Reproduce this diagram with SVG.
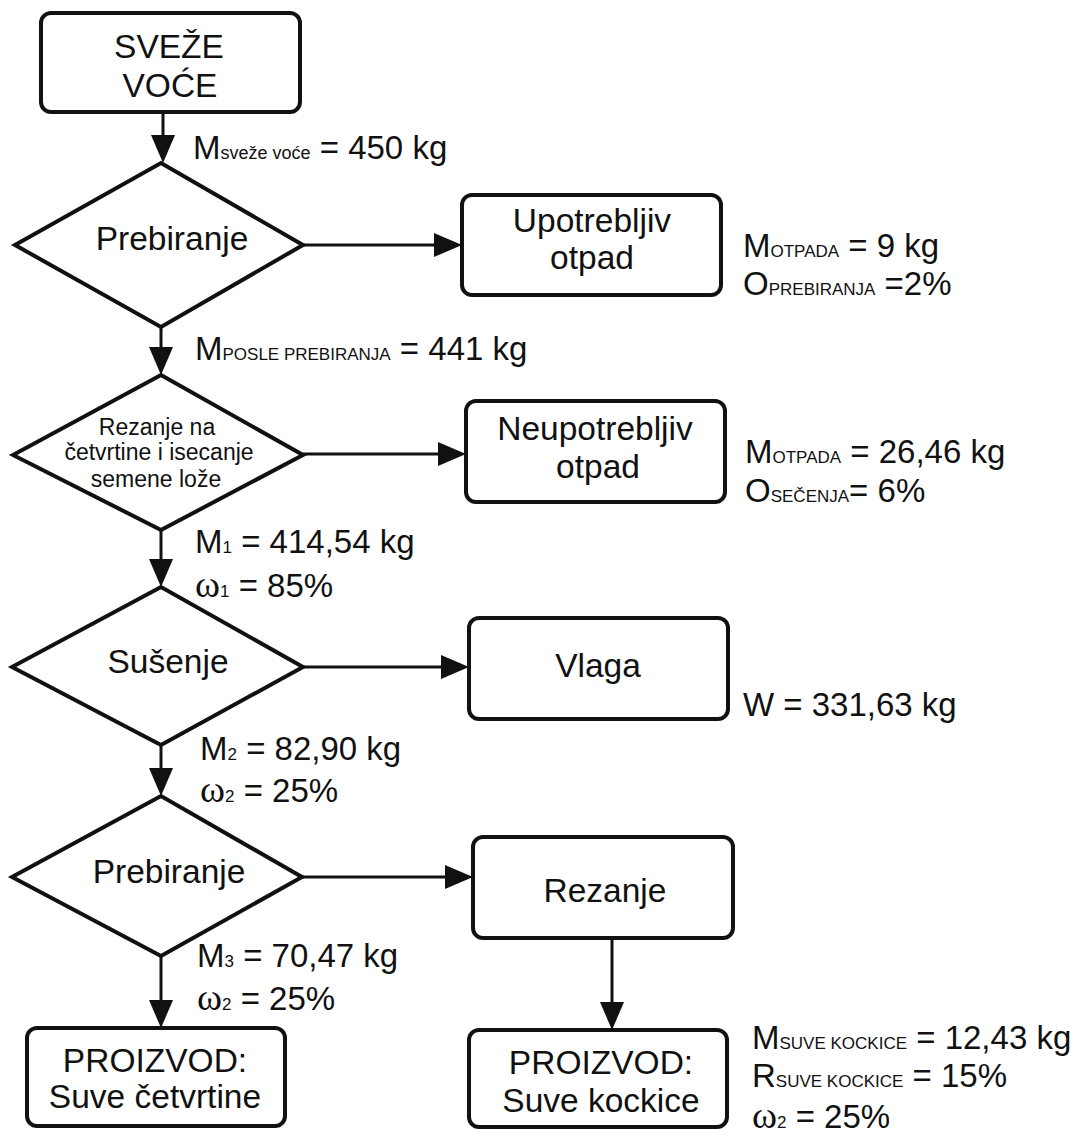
<svg xmlns="http://www.w3.org/2000/svg" width="1081" height="1129" viewBox="0 0 1081 1129">
  <defs>
    <marker id="arrow" markerUnits="userSpaceOnUse" markerWidth="28" markerHeight="24" viewBox="0 0 28 24" refX="18" refY="12" orient="auto">
      <path d="M0,0 L28,12 L0,24 Z" fill="#111"/>
    </marker>
    <style>
      .box { fill: #fff; stroke: #111; stroke-width: 4; }
      .dia { fill: #fff; stroke: #111; stroke-width: 4; stroke-linejoin: miter; }
      .con { fill: none; stroke: #111; stroke-width: 3; marker-end: url(#arrow); }
      text { font-family: "Liberation Sans", Arial, sans-serif; fill: #111; }
      .nt { font-size: 33.5px; text-anchor: middle; }
      .st { font-size: 23px; text-anchor: middle; }
      .lab { font-size: 33px; }
      .sub { font-size: 17px; }
      .subl { font-size: 18px; }
      .num { font-size: 17px; }
      .om { font-family: "Liberation Serif", "Times New Roman", serif; font-size: 38px; }
    </style>
  </defs>

  <!-- connectors -->
  <g id="connectors">
    <line class="con" x1="163" y1="112" x2="163" y2="153"/>
    <line class="con" x1="161" y1="327" x2="161" y2="365"/>
    <line class="con" x1="161" y1="530" x2="161" y2="577"/>
    <line class="con" x1="161" y1="745" x2="161" y2="786"/>
    <line class="con" x1="161" y1="956" x2="161" y2="1018"/>
    <line class="con" x1="612" y1="938" x2="612" y2="1020"/>
    <line class="con" x1="303" y1="245" x2="452" y2="245"/>
    <line class="con" x1="303" y1="454" x2="456" y2="454"/>
    <line class="con" x1="303" y1="667" x2="459" y2="667"/>
    <line class="con" x1="302" y1="877" x2="463" y2="877"/>
  </g>

  <!-- start -->
  <g id="sveze-voce">
    <rect class="box" x="41" y="13" width="259" height="99" rx="10"/>
    <text class="nt" x="169" y="58">SVEŽE</text>
    <text class="nt" x="170" y="97">VOĆE</text>
  </g>

  <!-- step 1: sorting -->
  <g id="prebiranje-1">
    <polygon class="dia" points="15,245 161,163 303,245 161,327"/>
    <text class="nt" x="172" y="250">Prebiranje</text>
  </g>
  <g id="upotrebljiv-otpad">
    <rect class="box" x="462" y="195" width="259" height="100" rx="10"/>
    <text class="nt" x="592" y="232">Upotrebljiv</text>
    <text class="nt" x="592" y="269">otpad</text>
  </g>

  <!-- step 2: quartering and coring -->
  <g id="rezanje-cetvrtine">
    <polygon class="dia" points="13,455 161,375 303,455 161,530"/>
    <text class="st" x="157" y="435">Rezanje na</text>
    <text class="st" x="159" y="460">četvrtine i isecanje</text>
    <text class="st" x="156" y="487">semene lože</text>
  </g>
  <g id="neupotrebljiv-otpad">
    <rect class="box" x="466" y="401" width="259" height="101" rx="10"/>
    <text class="nt" x="595" y="440">Neupotrebljiv</text>
    <text class="nt" x="598" y="478">otpad</text>
  </g>

  <!-- step 3: drying -->
  <g id="susenje">
    <polygon class="dia" points="12,667 161,587 303,667 161,745"/>
    <text class="nt" x="168" y="673">Sušenje</text>
  </g>
  <g id="vlaga">
    <rect class="box" x="469" y="618" width="259" height="101" rx="10"/>
    <text class="nt" x="598" y="677">Vlaga</text>
  </g>

  <!-- step 4: second sorting -->
  <g id="prebiranje-2">
    <polygon class="dia" points="12,877 161,796 302,877 161,956"/>
    <text class="nt" x="169" y="883">Prebiranje</text>
  </g>
  <g id="rezanje">
    <rect class="box" x="473" y="837" width="260" height="101" rx="10"/>
    <text class="nt" x="605" y="902">Rezanje</text>
  </g>

  <!-- products -->
  <g id="proizvod-cetvrtine">
    <rect class="box" x="27" y="1028" width="258" height="98" rx="10"/>
    <text class="nt" x="155" y="1072">PROIZVOD:</text>
    <text class="nt" x="155" y="1108">Suve četvrtine</text>
  </g>
  <g id="proizvod-kockice">
    <rect class="box" x="469" y="1030" width="258" height="97" rx="10"/>
    <text class="nt" x="601" y="1074">PROIZVOD:</text>
    <text class="nt" x="601" y="1112">Suve kockice</text>
  </g>

  <!-- mass balance labels -->
  <g id="labels">
    <text class="lab" x="193" y="159">M<tspan class="subl">sveže voće</tspan> = 450 kg</text>
    <text class="lab" x="743" y="257">M<tspan class="sub">OTPADA</tspan> = 9 kg</text>
    <text class="lab" x="743" y="295">O<tspan class="sub">PREBIRANJA</tspan> =2%</text>
    <text class="lab" x="195" y="360">M<tspan class="sub">POSLE PREBIRANJA</tspan> = 441 kg</text>
    <text class="lab" x="195" y="553">M<tspan class="num">1</tspan> = 414,54 kg</text>
    <text class="lab" x="195" y="597"><tspan class="om">ω</tspan><tspan class="num">1</tspan> = 85%</text>
    <text class="lab" x="745" y="463">M<tspan class="sub">OTPADA</tspan> = 26,46 kg</text>
    <text class="lab" x="745" y="502">O<tspan class="sub">SEČENJA</tspan>= 6%</text>
    <text class="lab" x="743" y="716">W = 331,63 kg</text>
    <text class="lab" x="200" y="760">M<tspan class="num">2</tspan> = 82,90 kg</text>
    <text class="lab" x="200" y="802"><tspan class="om">ω</tspan><tspan class="num">2</tspan> = 25%</text>
    <text class="lab" x="197" y="967">M<tspan class="num">3</tspan> = 70,47 kg</text>
    <text class="lab" x="197" y="1010"><tspan class="om">ω</tspan><tspan class="num">2</tspan> = 25%</text>
    <text class="lab" x="752" y="1049">M<tspan class="sub">SUVE KOCKICE</tspan> = 12,43 kg</text>
    <text class="lab" x="752" y="1087">R<tspan class="sub">SUVE KOCKICE</tspan> = 15%</text>
    <text class="lab" x="752" y="1128"><tspan class="om">ω</tspan><tspan class="num">2</tspan> = 25%</text>
  </g>
</svg>
